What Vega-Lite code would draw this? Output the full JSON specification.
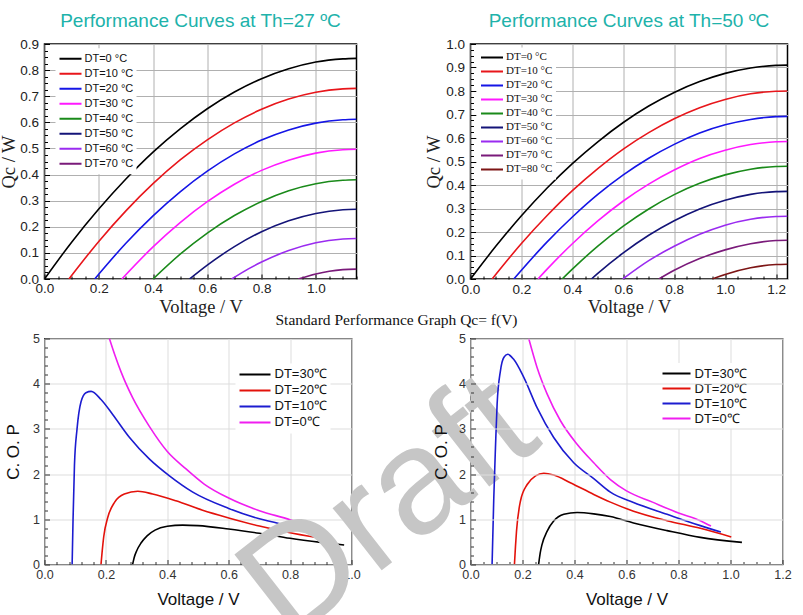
{
  "$schema": "https://vega.github.io/schema/vega-lite/v6.json",
  "background": "white",
  "padding": {"left": -2.5, "top": 10, "right": 5, "bottom": 0},
  "bounds": "flush",
  "columns": 2,
  "spacing": {"row": 59.5, "column": 114},
  "resolve": {"scale": {"color": "independent"}, "legend": {"color": "independent"}},
  "config": {"view": {"stroke": null}, "legend": {"title": null}},
  "datasets": {
    "qc27": [
      {"dt":"DT=0 °C","v":0,"q":0},{"dt":"DT=0 °C","v":0.1,"q":0.141},{"dt":"DT=0 °C","v":0.2,"q":0.268},{"dt":"DT=0 °C","v":0.3,"q":0.383},{"dt":"DT=0 °C","v":0.4,"q":0.486},{"dt":"DT=0 °C","v":0.5,"q":0.575},{"dt":"DT=0 °C","v":0.6,"q":0.652},{"dt":"DT=0 °C","v":0.7,"q":0.716},{"dt":"DT=0 °C","v":0.8,"q":0.767},{"dt":"DT=0 °C","v":0.9,"q":0.805},{"dt":"DT=0 °C","v":1.0,"q":0.831},{"dt":"DT=0 °C","v":1.1,"q":0.843},{"dt":"DT=0 °C","v":1.15,"q":0.845},
      {"dt":"DT=10 °C","v":0.09,"q":0},{"dt":"DT=10 °C","v":0.2,"q":0.144},{"dt":"DT=10 °C","v":0.3,"q":0.261},{"dt":"DT=10 °C","v":0.4,"q":0.365},{"dt":"DT=10 °C","v":0.5,"q":0.456},{"dt":"DT=10 °C","v":0.6,"q":0.533},{"dt":"DT=10 °C","v":0.7,"q":0.598},{"dt":"DT=10 °C","v":0.8,"q":0.65},{"dt":"DT=10 °C","v":0.9,"q":0.689},{"dt":"DT=10 °C","v":1.0,"q":0.715},{"dt":"DT=10 °C","v":1.1,"q":0.728},{"dt":"DT=10 °C","v":1.15,"q":0.73},
      {"dt":"DT=20 °C","v":0.185,"q":0},{"dt":"DT=20 °C","v":0.3,"q":0.137},{"dt":"DT=20 °C","v":0.4,"q":0.242},{"dt":"DT=20 °C","v":0.5,"q":0.334},{"dt":"DT=20 °C","v":0.6,"q":0.413},{"dt":"DT=20 °C","v":0.7,"q":0.479},{"dt":"DT=20 °C","v":0.8,"q":0.532},{"dt":"DT=20 °C","v":0.9,"q":0.571},{"dt":"DT=20 °C","v":1.0,"q":0.597},{"dt":"DT=20 °C","v":1.1,"q":0.61},{"dt":"DT=20 °C","v":1.15,"q":0.612},
      {"dt":"DT=30 °C","v":0.285,"q":0},{"dt":"DT=30 °C","v":0.4,"q":0.123},{"dt":"DT=30 °C","v":0.5,"q":0.216},{"dt":"DT=30 °C","v":0.6,"q":0.296},{"dt":"DT=30 °C","v":0.7,"q":0.363},{"dt":"DT=30 °C","v":0.8,"q":0.416},{"dt":"DT=30 °C","v":0.9,"q":0.455},{"dt":"DT=30 °C","v":1.0,"q":0.482},{"dt":"DT=30 °C","v":1.1,"q":0.495},{"dt":"DT=30 °C","v":1.15,"q":0.497},
      {"dt":"DT=40 °C","v":0.4,"q":0},{"dt":"DT=40 °C","v":0.5,"q":0.095},{"dt":"DT=40 °C","v":0.6,"q":0.176},{"dt":"DT=40 °C","v":0.7,"q":0.243},{"dt":"DT=40 °C","v":0.8,"q":0.297},{"dt":"DT=40 °C","v":0.9,"q":0.338},{"dt":"DT=40 °C","v":1.0,"q":0.365},{"dt":"DT=40 °C","v":1.1,"q":0.378},{"dt":"DT=40 °C","v":1.15,"q":0.38},
      {"dt":"DT=50 °C","v":0.535,"q":0},{"dt":"DT=50 °C","v":0.6,"q":0.053},{"dt":"DT=50 °C","v":0.7,"q":0.124},{"dt":"DT=50 °C","v":0.8,"q":0.181},{"dt":"DT=50 °C","v":0.9,"q":0.223},{"dt":"DT=50 °C","v":1.0,"q":0.251},{"dt":"DT=50 °C","v":1.1,"q":0.265},{"dt":"DT=50 °C","v":1.15,"q":0.267},
      {"dt":"DT=60 °C","v":0.69,"q":0},{"dt":"DT=60 °C","v":0.75,"q":0.038},{"dt":"DT=60 °C","v":0.8,"q":0.065},{"dt":"DT=60 °C","v":0.9,"q":0.109},{"dt":"DT=60 °C","v":1.0,"q":0.139},{"dt":"DT=60 °C","v":1.1,"q":0.153},{"dt":"DT=60 °C","v":1.15,"q":0.155},
      {"dt":"DT=70 °C","v":0.935,"q":0},{"dt":"DT=70 °C","v":1.0,"q":0.0195},{"dt":"DT=70 °C","v":1.05,"q":0.03},{"dt":"DT=70 °C","v":1.1,"q":0.036},{"dt":"DT=70 °C","v":1.15,"q":0.038}
    ],
    "qc50": [
      {"dt":"DT=0 °C","v":0,"q":0},{"dt":"DT=0 °C","v":0.1,"q":0.14},{"dt":"DT=0 °C","v":0.2,"q":0.269},{"dt":"DT=0 °C","v":0.3,"q":0.386},{"dt":"DT=0 °C","v":0.4,"q":0.491},{"dt":"DT=0 °C","v":0.5,"q":0.584},{"dt":"DT=0 °C","v":0.6,"q":0.666},{"dt":"DT=0 °C","v":0.7,"q":0.736},{"dt":"DT=0 °C","v":0.8,"q":0.794},{"dt":"DT=0 °C","v":0.9,"q":0.84},{"dt":"DT=0 °C","v":1.0,"q":0.875},{"dt":"DT=0 °C","v":1.1,"q":0.898},{"dt":"DT=0 °C","v":1.2,"q":0.909},{"dt":"DT=0 °C","v":1.245,"q":0.91},
      {"dt":"DT=10 °C","v":0.085,"q":0},{"dt":"DT=10 °C","v":0.2,"q":0.151},{"dt":"DT=10 °C","v":0.3,"q":0.269},{"dt":"DT=10 °C","v":0.4,"q":0.376},{"dt":"DT=10 °C","v":0.5,"q":0.47},{"dt":"DT=10 °C","v":0.6,"q":0.553},{"dt":"DT=10 °C","v":0.7,"q":0.623},{"dt":"DT=10 °C","v":0.8,"q":0.682},{"dt":"DT=10 °C","v":0.9,"q":0.729},{"dt":"DT=10 °C","v":1.0,"q":0.764},{"dt":"DT=10 °C","v":1.1,"q":0.788},{"dt":"DT=10 °C","v":1.2,"q":0.799},{"dt":"DT=10 °C","v":1.245,"q":0.8},
      {"dt":"DT=20 °C","v":0.17,"q":0},{"dt":"DT=20 °C","v":0.3,"q":0.157},{"dt":"DT=20 °C","v":0.4,"q":0.264},{"dt":"DT=20 °C","v":0.5,"q":0.36},{"dt":"DT=20 °C","v":0.6,"q":0.443},{"dt":"DT=20 °C","v":0.7,"q":0.514},{"dt":"DT=20 °C","v":0.8,"q":0.573},{"dt":"DT=20 °C","v":0.9,"q":0.621},{"dt":"DT=20 °C","v":1.0,"q":0.656},{"dt":"DT=20 °C","v":1.1,"q":0.679},{"dt":"DT=20 °C","v":1.2,"q":0.691},{"dt":"DT=20 °C","v":1.245,"q":0.692},
      {"dt":"DT=30 °C","v":0.265,"q":0},{"dt":"DT=30 °C","v":0.3,"q":0.041},{"dt":"DT=30 °C","v":0.4,"q":0.15},{"dt":"DT=30 °C","v":0.5,"q":0.247},{"dt":"DT=30 °C","v":0.6,"q":0.332},{"dt":"DT=30 °C","v":0.7,"q":0.404},{"dt":"DT=30 °C","v":0.8,"q":0.464},{"dt":"DT=30 °C","v":0.9,"q":0.513},{"dt":"DT=30 °C","v":1.0,"q":0.548},{"dt":"DT=30 °C","v":1.1,"q":0.572},{"dt":"DT=30 °C","v":1.2,"q":0.584},{"dt":"DT=30 °C","v":1.245,"q":0.585},
      {"dt":"DT=40 °C","v":0.36,"q":0},{"dt":"DT=40 °C","v":0.4,"q":0.042},{"dt":"DT=40 °C","v":0.5,"q":0.14},{"dt":"DT=40 °C","v":0.6,"q":0.225},{"dt":"DT=40 °C","v":0.7,"q":0.298},{"dt":"DT=40 °C","v":0.8,"q":0.359},{"dt":"DT=40 °C","v":0.9,"q":0.407},{"dt":"DT=40 °C","v":1.0,"q":0.443},{"dt":"DT=40 °C","v":1.1,"q":0.467},{"dt":"DT=40 °C","v":1.2,"q":0.479},{"dt":"DT=40 °C","v":1.245,"q":0.48},
      {"dt":"DT=50 °C","v":0.475,"q":0},{"dt":"DT=50 °C","v":0.5,"q":0.024},{"dt":"DT=50 °C","v":0.6,"q":0.111},{"dt":"DT=50 °C","v":0.7,"q":0.186},{"dt":"DT=50 °C","v":0.8,"q":0.248},{"dt":"DT=50 °C","v":0.9,"q":0.298},{"dt":"DT=50 °C","v":1.0,"q":0.335},{"dt":"DT=50 °C","v":1.1,"q":0.36},{"dt":"DT=50 °C","v":1.2,"q":0.372},{"dt":"DT=50 °C","v":1.245,"q":0.373},
      {"dt":"DT=60 °C","v":0.598,"q":0},{"dt":"DT=60 °C","v":0.7,"q":0.078},{"dt":"DT=60 °C","v":0.8,"q":0.139},{"dt":"DT=60 °C","v":0.9,"q":0.19},{"dt":"DT=60 °C","v":1.0,"q":0.229},{"dt":"DT=60 °C","v":1.1,"q":0.254},{"dt":"DT=60 °C","v":1.2,"q":0.266},{"dt":"DT=60 °C","v":1.245,"q":0.267},
      {"dt":"DT=70 °C","v":0.74,"q":0},{"dt":"DT=70 °C","v":0.8,"q":0.037},{"dt":"DT=70 °C","v":0.9,"q":0.087},{"dt":"DT=70 °C","v":1.0,"q":0.124},{"dt":"DT=70 °C","v":1.1,"q":0.15},{"dt":"DT=70 °C","v":1.2,"q":0.164},{"dt":"DT=70 °C","v":1.245,"q":0.165},
      {"dt":"DT=80 °C","v":0.95,"q":0},{"dt":"DT=80 °C","v":1.0,"q":0.0195},{"dt":"DT=80 °C","v":1.1,"q":0.048},{"dt":"DT=80 °C","v":1.2,"q":0.0615},{"dt":"DT=80 °C","v":1.245,"q":0.063}
    ],
    "cop27": [
      {"dt":"DT=30℃","v":0.287,"c":0},{"dt":"DT=30℃","v":0.292,"c":0.15},{"dt":"DT=30℃","v":0.3,"c":0.3},{"dt":"DT=30℃","v":0.315,"c":0.48},{"dt":"DT=30℃","v":0.335,"c":0.64},{"dt":"DT=30℃","v":0.36,"c":0.76},{"dt":"DT=30℃","v":0.4,"c":0.845},{"dt":"DT=30℃","v":0.45,"c":0.872},{"dt":"DT=30℃","v":0.5,"c":0.86},{"dt":"DT=30℃","v":0.6,"c":0.785},{"dt":"DT=30℃","v":0.7,"c":0.69},{"dt":"DT=30℃","v":0.8,"c":0.58},{"dt":"DT=30℃","v":0.9,"c":0.49},{"dt":"DT=30℃","v":0.976,"c":0.43},
      {"dt":"DT=20℃","v":0.184,"c":0},{"dt":"DT=20℃","v":0.188,"c":0.3},{"dt":"DT=20℃","v":0.193,"c":0.62},{"dt":"DT=20℃","v":0.206,"c":1.04},{"dt":"DT=20℃","v":0.228,"c":1.375},{"dt":"DT=20℃","v":0.26,"c":1.56},{"dt":"DT=20℃","v":0.304,"c":1.62},{"dt":"DT=20℃","v":0.352,"c":1.56},{"dt":"DT=20℃","v":0.428,"c":1.41},{"dt":"DT=20℃","v":0.515,"c":1.2},{"dt":"DT=20℃","v":0.6,"c":1.03},{"dt":"DT=20℃","v":0.7,"c":0.85},{"dt":"DT=20℃","v":0.808,"c":0.69},{"dt":"DT=20℃","v":0.938,"c":0.545},
      {"dt":"DT=10℃","v":0.09,"c":0},{"dt":"DT=10℃","v":0.093,"c":1.0},{"dt":"DT=10℃","v":0.0976,"c":2.2},{"dt":"DT=10℃","v":0.106,"c":3.0},{"dt":"DT=10℃","v":0.119,"c":3.6},{"dt":"DT=10℃","v":0.135,"c":3.8},{"dt":"DT=10℃","v":0.152,"c":3.83},{"dt":"DT=10℃","v":0.184,"c":3.65},{"dt":"DT=10℃","v":0.222,"c":3.32},{"dt":"DT=10℃","v":0.277,"c":2.81},{"dt":"DT=10℃","v":0.342,"c":2.33},{"dt":"DT=10℃","v":0.407,"c":1.96},{"dt":"DT=10℃","v":0.483,"c":1.6},{"dt":"DT=10℃","v":0.6,"c":1.24},{"dt":"DT=10℃","v":0.7,"c":1.01},{"dt":"DT=10℃","v":0.808,"c":0.84},{"dt":"DT=10℃","v":0.9,"c":0.69},
      {"dt":"DT=0℃","v":0.2115,"c":5.0},{"dt":"DT=0℃","v":0.23,"c":4.62},{"dt":"DT=0℃","v":0.25,"c":4.25},{"dt":"DT=0℃","v":0.287,"c":3.69},{"dt":"DT=0℃","v":0.342,"c":3.05},{"dt":"DT=0℃","v":0.4,"c":2.5},{"dt":"DT=0℃","v":0.46,"c":2.12},{"dt":"DT=0℃","v":0.52,"c":1.78},{"dt":"DT=0℃","v":0.6,"c":1.47},{"dt":"DT=0℃","v":0.7,"c":1.19},{"dt":"DT=0℃","v":0.8,"c":0.99},{"dt":"DT=0℃","v":0.862,"c":0.84}
    ],
    "cop50": [
      {"dt":"DT=30℃","v":0.262,"c":0},{"dt":"DT=30℃","v":0.268,"c":0.25},{"dt":"DT=30℃","v":0.275,"c":0.44},{"dt":"DT=30℃","v":0.295,"c":0.74},{"dt":"DT=30℃","v":0.32,"c":0.96},{"dt":"DT=30℃","v":0.359,"c":1.11},{"dt":"DT=30℃","v":0.41,"c":1.15},{"dt":"DT=30℃","v":0.474,"c":1.12},{"dt":"DT=30℃","v":0.538,"c":1.06},{"dt":"DT=30℃","v":0.627,"c":0.92},{"dt":"DT=30℃","v":0.756,"c":0.75},{"dt":"DT=30℃","v":0.884,"c":0.6},{"dt":"DT=30℃","v":1.044,"c":0.49},
      {"dt":"DT=20℃","v":0.169,"c":0},{"dt":"DT=20℃","v":0.173,"c":0.4},{"dt":"DT=20℃","v":0.177,"c":0.74},{"dt":"DT=20℃","v":0.192,"c":1.4},{"dt":"DT=20℃","v":0.218,"c":1.77},{"dt":"DT=20℃","v":0.25,"c":1.96},{"dt":"DT=20℃","v":0.282,"c":2.02},{"dt":"DT=20℃","v":0.32,"c":1.98},{"dt":"DT=20℃","v":0.384,"c":1.81},{"dt":"DT=20℃","v":0.474,"c":1.55},{"dt":"DT=20℃","v":0.538,"c":1.38},{"dt":"DT=20℃","v":0.627,"c":1.18},{"dt":"DT=20℃","v":0.756,"c":0.97},{"dt":"DT=20℃","v":0.884,"c":0.8},{"dt":"DT=20℃","v":1.003,"c":0.61},
      {"dt":"DT=10℃","v":0.083,"c":0},{"dt":"DT=10℃","v":0.0896,"c":1.48},{"dt":"DT=10℃","v":0.096,"c":2.58},{"dt":"DT=10℃","v":0.1024,"c":3.55},{"dt":"DT=10℃","v":0.115,"c":4.28},{"dt":"DT=10℃","v":0.128,"c":4.58},{"dt":"DT=10℃","v":0.143,"c":4.65},{"dt":"DT=10℃","v":0.166,"c":4.54},{"dt":"DT=10℃","v":0.205,"c":4.14},{"dt":"DT=10℃","v":0.256,"c":3.47},{"dt":"DT=10℃","v":0.32,"c":2.81},{"dt":"DT=10℃","v":0.397,"c":2.25},{"dt":"DT=10℃","v":0.474,"c":1.9},{"dt":"DT=10℃","v":0.538,"c":1.6},{"dt":"DT=10℃","v":0.627,"c":1.37},{"dt":"DT=10℃","v":0.756,"c":1.11},{"dt":"DT=10℃","v":0.884,"c":0.86},{"dt":"DT=10℃","v":0.963,"c":0.72},
      {"dt":"DT=0℃","v":0.224,"c":5.0},{"dt":"DT=0℃","v":0.256,"c":4.36},{"dt":"DT=0℃","v":0.295,"c":3.77},{"dt":"DT=0℃","v":0.346,"c":3.18},{"dt":"DT=0℃","v":0.41,"c":2.66},{"dt":"DT=0℃","v":0.474,"c":2.25},{"dt":"DT=0℃","v":0.538,"c":1.88},{"dt":"DT=0℃","v":0.6,"c":1.63},{"dt":"DT=0℃","v":0.7,"c":1.38},{"dt":"DT=0℃","v":0.8,"c":1.14},{"dt":"DT=0℃","v":0.884,"c":0.97},{"dt":"DT=0℃","v":0.925,"c":0.85}
    ]
  },
  "concat": [
    {
      "width": 312, "height": 235,
      "view": {"stroke": "#000", "strokeWidth": 1.5},
      "title": {"text": "Performance Curves at Th=27 ºC", "anchor": "middle", "frame": "group", "font": "Liberation Sans", "fontSize": 19, "fontWeight": "normal", "color": "#20b2aa", "offset": -8.5, "baseline": "alphabetic"},
      "data": {"name": "qc27"},
      "mark": {"type": "line", "strokeWidth": 1.6, "interpolate": "monotone", "clip": true},
      "encoding": {
        "x": {"field": "v", "type": "quantitative", "title": "Voltage / V",
          "scale": {"domain": [0, 1.15], "nice": false, "zero": false},
          "axis": {"values": [0,0.05,0.1,0.15,0.2,0.25,0.3,0.35,0.4,0.45,0.5,0.55,0.6,0.65,0.7,0.75,0.8,0.85,0.9,0.95,1.0,1.05,1.1,1.15],
            "labelExpr": "abs(datum.value*5-round(datum.value*5))<0.001 ? format(datum.value,'.1f') : ''",
            "labelOverlap": false, "labelFlush": false,
            "grid": true, "gridColor": "#b0b0b0", "gridWidth": 1,
            "gridOpacity": {"condition": {"test": "abs(datum.value*5-round(datum.value*5))<0.001", "value": 1}, "value": 0},
            "tickSize": {"condition": {"test": "abs(datum.value*5-round(datum.value*5))<0.001", "value": -5}, "value": -3},
            "domain": false, "tickColor": "#000", "labelPadding": 7,
            "labelFont": "Liberation Sans", "labelFontSize": 13.5, "labelColor": "#222",
            "titleFont": "Liberation Serif", "titleFontSize": 18.5, "titleFontWeight": "normal", "titleColor": "#222", "titlePadding": 1}},
        "y": {"field": "q", "type": "quantitative", "title": "Qc / W",
          "scale": {"domain": [0, 0.9], "nice": false, "zero": false},
          "axis": {"values": [0,0.025,0.05,0.075,0.1,0.125,0.15,0.175,0.2,0.225,0.25,0.275,0.3,0.325,0.35,0.375,0.4,0.425,0.45,0.475,0.5,0.525,0.55,0.575,0.6,0.625,0.65,0.675,0.7,0.725,0.75,0.775,0.8,0.825,0.85,0.875,0.9],
            "labelExpr": "abs(datum.value*10-round(datum.value*10))<0.001 ? format(datum.value,'.1f') : ''",
            "labelOverlap": false, "labelFlush": false,
            "grid": true, "gridColor": "#b0b0b0", "gridWidth": 1,
            "gridOpacity": {"condition": {"test": "abs(datum.value*10-round(datum.value*10))<0.001", "value": 1}, "value": 0},
            "tickSize": {"condition": {"test": "abs(datum.value*10-round(datum.value*10))<0.001", "value": -5}, "value": -3},
            "domain": false, "tickColor": "#000", "labelPadding": 11,
            "labelFont": "Liberation Sans", "labelFontSize": 13.5, "labelColor": "#222",
            "titleFont": "Liberation Serif", "titleFontSize": 18.5, "titleFontWeight": "normal", "titleColor": "#222", "titlePadding": 1.5}},
        "color": {"field": "dt", "type": "nominal",
          "scale": {"domain": ["DT=0 °C","DT=10 °C","DT=20 °C","DT=30 °C","DT=40 °C","DT=50 °C","DT=60 °C","DT=70 °C"],
                    "range": ["#000000","#e8161b","#1515e6","#ff19ff","#1a8a1a","#141478","#9a2bf0","#7a1a7a"]},
          "legend": {"orient": "none", "legendX": 11, "legendY": 4.3, "symbolType": "stroke", "symbolSize": 484, "symbolStrokeWidth": 2, "clipHeight": 15,
            "labelFont": "Liberation Sans", "labelFontSize": 11, "labelColor": "#111", "fillColor": "white", "padding": 3, "rowPadding": 0, "labelOffset": 2}}
      }
    },
    {
      "width": 317, "height": 235,
      "view": {"stroke": "#000", "strokeWidth": 1.5},
      "title": {"text": "Performance Curves at Th=50 ºC", "anchor": "middle", "frame": "group", "font": "Liberation Sans", "fontSize": 19, "fontWeight": "normal", "color": "#20b2aa", "offset": -8.5, "baseline": "alphabetic"},
      "data": {"name": "qc50"},
      "mark": {"type": "line", "strokeWidth": 1.6, "interpolate": "monotone", "clip": true},
      "encoding": {
        "x": {"field": "v", "type": "quantitative", "title": "Voltage / V",
          "scale": {"domain": [0, 1.245], "nice": false, "zero": false},
          "axis": {"values": [0,0.05,0.1,0.15,0.2,0.25,0.3,0.35,0.4,0.45,0.5,0.55,0.6,0.65,0.7,0.75,0.8,0.85,0.9,0.95,1.0,1.05,1.1,1.15,1.2],
            "labelExpr": "abs(datum.value*5-round(datum.value*5))<0.001 ? format(datum.value,'.1f') : ''",
            "labelOverlap": false, "labelFlush": false,
            "grid": true, "gridColor": "#b0b0b0", "gridWidth": 1,
            "gridOpacity": {"condition": {"test": "abs(datum.value*5-round(datum.value*5))<0.001", "value": 1}, "value": 0},
            "tickSize": {"condition": {"test": "abs(datum.value*5-round(datum.value*5))<0.001", "value": -5}, "value": -3},
            "domain": false, "tickColor": "#000", "labelPadding": 8,
            "labelFont": "Liberation Sans", "labelFontSize": 13.5, "labelColor": "#222",
            "titleFont": "Liberation Serif", "titleFontSize": 18.5, "titleFontWeight": "normal", "titleColor": "#222", "titlePadding": 0}},
        "y": {"field": "q", "type": "quantitative", "title": "Qc / W",
          "scale": {"domain": [0, 1.0], "nice": false, "zero": false},
          "axis": {"values": [0,0.025,0.05,0.075,0.1,0.125,0.15,0.175,0.2,0.225,0.25,0.275,0.3,0.325,0.35,0.375,0.4,0.425,0.45,0.475,0.5,0.525,0.55,0.575,0.6,0.625,0.65,0.675,0.7,0.725,0.75,0.775,0.8,0.825,0.85,0.875,0.9,0.925,0.95,0.975,1.0],
            "labelExpr": "abs(datum.value*10-round(datum.value*10))<0.001 ? format(datum.value,'.1f') : ''",
            "labelOverlap": false, "labelFlush": false,
            "grid": true, "gridColor": "#b0b0b0", "gridWidth": 1,
            "gridOpacity": {"condition": {"test": "abs(datum.value*10-round(datum.value*10))<0.001", "value": 1}, "value": 0},
            "tickSize": {"condition": {"test": "abs(datum.value*10-round(datum.value*10))<0.001", "value": -5}, "value": -3},
            "domain": false, "tickColor": "#000", "labelPadding": 11,
            "labelFont": "Liberation Sans", "labelFontSize": 13.5, "labelColor": "#222",
            "titleFont": "Liberation Serif", "titleFontSize": 18.5, "titleFontWeight": "normal", "titleColor": "#222", "titlePadding": 2.5}},
        "color": {"field": "dt", "type": "nominal",
          "scale": {"domain": ["DT=0 °C","DT=10 °C","DT=20 °C","DT=30 °C","DT=40 °C","DT=50 °C","DT=60 °C","DT=70 °C","DT=80 °C"],
                    "range": ["#000000","#e8161b","#1515e6","#ff19ff","#1a8a1a","#141478","#9a2bf0","#7a1a7a","#7d1515"]},
          "legend": {"orient": "none", "legendX": 6.5, "legendY": 3.6, "symbolType": "stroke", "symbolSize": 484, "symbolStrokeWidth": 2, "clipHeight": 13.6,
            "labelFont": "Liberation Serif", "labelFontSize": 11, "labelColor": "#111", "fillColor": "white", "padding": 3, "rowPadding": 0, "labelOffset": 2}}
      }
    },
    {
      "width": 307, "height": 226,
      "view": {"stroke": "#333", "strokeWidth": 1.3},
      "title": {"text": "Standard Performance Graph Qc= f(V)", "anchor": "middle", "frame": "group", "font": "Liberation Serif", "fontSize": 15.5, "fontWeight": "normal", "color": "#111", "offset": -8, "dx": 198.5, "baseline": "alphabetic"},
      "data": {"name": "cop27"},
      "mark": {"type": "line", "strokeWidth": 1.6, "interpolate": "monotone", "clip": true},
      "encoding": {
        "x": {"field": "v", "type": "quantitative", "title": "Voltage / V",
          "scale": {"domain": [0, 1.0], "nice": false, "zero": false},
          "axis": {"values": [0,0.04,0.08,0.12,0.16,0.2,0.24,0.28,0.32,0.36,0.4,0.44,0.48,0.52,0.56,0.6,0.64,0.68,0.72,0.76,0.8,0.84,0.88,0.92,0.96,1.0],
            "labelExpr": "abs(datum.value*5-round(datum.value*5))<0.001 ? format(datum.value,'.1f') : ''",
            "labelOverlap": false, "labelFlush": false,
            "grid": true, "gridColor": "#dddddd", "gridWidth": 1,
            "gridOpacity": {"condition": {"test": "abs(datum.value*5-round(datum.value*5))<0.001", "value": 1}, "value": 0},
            "tickSize": {"condition": {"test": "abs(datum.value*5-round(datum.value*5))<0.001", "value": -5}, "value": -3},
            "domain": false, "tickColor": "#333", "labelPadding": 9,
            "labelFont": "Liberation Sans", "labelFontSize": 12.5, "labelColor": "#333",
            "titleFont": "Liberation Sans", "titleFontSize": 17, "titleFontWeight": "normal", "titleColor": "#111", "titlePadding": 8}},
        "y": {"field": "c", "type": "quantitative", "title": "C. O. P",
          "scale": {"domain": [0, 5], "nice": false, "zero": false},
          "axis": {"values": [0,0.2,0.4,0.6,0.8,1,1.2,1.4,1.6,1.8,2,2.2,2.4,2.6,2.8,3,3.2,3.4,3.6,3.8,4,4.2,4.4,4.6,4.8,5],
            "labelExpr": "abs(datum.value-round(datum.value))<0.001 ? format(datum.value,'d') : ''",
            "labelOverlap": false, "labelFlush": false,
            "grid": true, "gridColor": "#dddddd", "gridWidth": 1,
            "gridOpacity": {"condition": {"test": "abs(datum.value-round(datum.value))<0.001", "value": 1}, "value": 0},
            "tickSize": {"condition": {"test": "abs(datum.value-round(datum.value))<0.001", "value": -5}, "value": -3},
            "domain": false, "tickColor": "#333", "labelPadding": 10,
            "labelFont": "Liberation Sans", "labelFontSize": 12.5, "labelColor": "#333",
            "titleFont": "Liberation Sans", "titleFontSize": 17, "titleFontWeight": "normal", "titleColor": "#111", "titlePadding": 10}},
        "color": {"field": "dt", "type": "nominal",
          "scale": {"domain": ["DT=30℃","DT=20℃","DT=10℃","DT=0℃"], "range": ["#000000","#e3120b","#1c1cd0","#f01ef0"]},
          "legend": {"orient": "none", "legendX": 191, "legendY": 25, "symbolType": "stroke", "symbolSize": 961, "symbolStrokeWidth": 2, "clipHeight": 15.8,
            "labelFont": "Liberation Sans", "labelFontSize": 13, "labelColor": "#111", "fillColor": "white", "padding": 3, "rowPadding": 0, "labelOffset": 3}}
      }
    },
    {
      "width": 312, "height": 226,
      "view": {"stroke": "#333", "strokeWidth": 1.3},
      "resolve": {"axis": {"x": "independent", "y": "independent"}},
      "layer": [
        {
          "data": {"values": [{"w": "Draft"}]},
          "mark": {"type": "text", "font": "Liberation Sans", "fontSize": 150, "color": "#c6c6c6", "angle": -38, "align": "center", "baseline": "middle"},
          "encoding": {
            "text": {"field": "w"},
            "x": {"datum": -0.315, "type": "quantitative", "axis": null},
            "y": {"datum": 1.25, "type": "quantitative", "axis": null}
          }
        },
        {
          "data": {"name": "cop50"},
          "mark": {"type": "line", "strokeWidth": 1.6, "interpolate": "monotone", "clip": true},
          "encoding": {
            "x": {"field": "v", "type": "quantitative", "title": "Voltage / V",
              "scale": {"domain": [0, 1.2], "nice": false, "zero": false},
              "axis": {"orient": "bottom", "values": [0,0.05,0.1,0.15,0.2,0.25,0.3,0.35,0.4,0.45,0.5,0.55,0.6,0.65,0.7,0.75,0.8,0.85,0.9,0.95,1.0,1.05,1.1,1.15,1.2],
                "labelExpr": "abs(datum.value*5-round(datum.value*5))<0.001 ? format(datum.value,'.1f') : ''",
                "labelOverlap": false, "labelFlush": false,
                "grid": true, "gridColor": "#dddddd", "gridWidth": 1,
                "gridOpacity": {"condition": {"test": "abs(datum.value*5-round(datum.value*5))<0.001", "value": 1}, "value": 0},
                "tickSize": {"condition": {"test": "abs(datum.value*5-round(datum.value*5))<0.001", "value": -5}, "value": -3},
                "domain": false, "tickColor": "#333", "labelPadding": 9,
                "labelFont": "Liberation Sans", "labelFontSize": 12.5, "labelColor": "#333",
                "titleFont": "Liberation Sans", "titleFontSize": 17, "titleFontWeight": "normal", "titleColor": "#111", "titlePadding": 8}},
            "y": {"field": "c", "type": "quantitative", "title": "C. O. P",
              "scale": {"domain": [0, 5], "nice": false, "zero": false},
              "axis": {"orient": "left", "values": [0,0.2,0.4,0.6,0.8,1,1.2,1.4,1.6,1.8,2,2.2,2.4,2.6,2.8,3,3.2,3.4,3.6,3.8,4,4.2,4.4,4.6,4.8,5],
                "labelExpr": "abs(datum.value-round(datum.value))<0.001 ? format(datum.value,'d') : ''",
                "labelOverlap": false, "labelFlush": false, "zindex": 1,
                "grid": true, "gridColor": "#dddddd", "gridWidth": 1,
                "gridOpacity": {"condition": {"test": "abs(datum.value-round(datum.value))<0.001", "value": 1}, "value": 0},
                "tickSize": {"condition": {"test": "abs(datum.value-round(datum.value))<0.001", "value": -5}, "value": -3},
                "domain": false, "tickColor": "#333", "labelPadding": 10,
                "labelFont": "Liberation Sans", "labelFontSize": 12.5, "labelColor": "#333",
                "titleFont": "Liberation Sans", "titleFontSize": 17, "titleFontWeight": "normal", "titleColor": "#111", "titlePadding": 8}},
            "color": {"field": "dt", "type": "nominal",
              "scale": {"domain": ["DT=30℃","DT=20℃","DT=10℃","DT=0℃"], "range": ["#000000","#e3120b","#1c1cd0","#f01ef0"]},
              "legend": {"orient": "none", "legendX": 188, "legendY": 24.5, "symbolType": "stroke", "symbolSize": 784, "symbolStrokeWidth": 2, "clipHeight": 15,
                "labelFont": "Liberation Sans", "labelFontSize": 13, "labelColor": "#111", "fillColor": "white", "padding": 3, "rowPadding": 0, "labelOffset": 3}}
          }
        }
      ]
    }
  ]
}
